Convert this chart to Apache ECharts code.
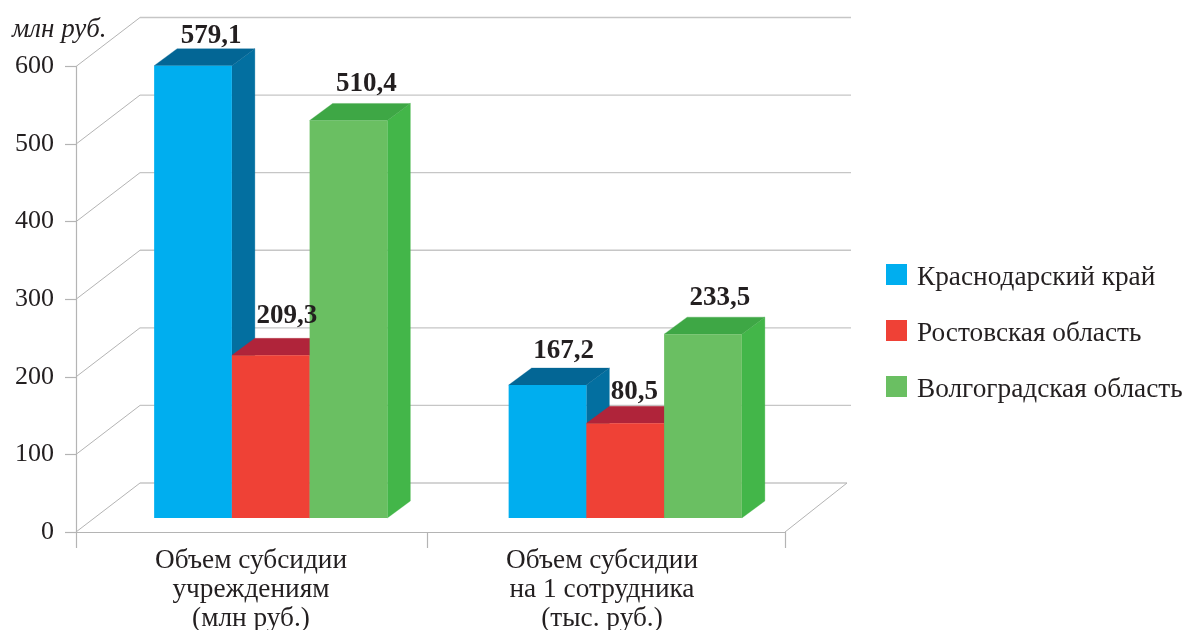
<!DOCTYPE html>
<html><head><meta charset="utf-8">
<style>html,body{margin:0;padding:0;background:#fff}#c{width:1186px;height:630px}</style>
<script src="https://cdn.jsdelivr.net/npm/echarts@6/dist/echarts.min.js"></script>
</head><body><div id="c"></div>
<script>
// DATA
const categories = ['Объем субсидии\nучреждениям\n(млн руб.)', 'Объем субсидии\nна 1 сотрудника\n(тыс. руб.)'];
const yTicks = [0, 100, 200, 300, 400, 500, 600];
const regionNames = ['Краснодарский край', 'Ростовская область', 'Волгоградская область'];
// Values printed above the bars
const krasnodarLabels = [579.1, 167.2];
const rostovLabels = [209.3, 80.5];
const volgogradLabels = [510.4, 233.5];
// Bar heights as read against the drawn axis (the original's bars are not all drawn to their printed value)
const krasnodarHeights = [583, 171.4];
const rostovHeights = [209.7, 122];
const volgogradHeights = [512.4, 237];

// STYLE / LAYOUT
const FONT = '"Liberation Serif", serif';
const INK = '#231f20';
const faces = [
  {front: '#00aeef', side: '#036fa0', top: '#036695'},
  {front: '#ef4136', side: '#b0243a', top: '#b0243a'},
  {front: '#6abf62', side: '#43b649', top: '#3ea745'}
];
const WALL = {dx: 64, dy: -49};
const DEPTH = {dx: 23, dy: -17};
const BAR = {share: 0.2193, shift: 17.5, lift: 14};
const labelNudge = [
  [[-5, 5], [-7, 1]],
  [[-7, -5], [-14, 3]],
  [[-5, -2], [-6, -2]]
];

const fmt = v => v.toFixed(1).replace('.', ',');
const poly = (points, fill, z2) => ({
  type: 'polygon', shape: {points}, z2,
  style: {fill, stroke: fill, lineWidth: 0.3}
});

function barSeries(i, heights, labels) {
  return {
    type: 'custom', name: regionNames[i], xAxisIndex: 0, yAxisIndex: 0, z: 3, silent: true,
    clip: false, itemStyle: {color: faces[i].front},
    encode: {x: 0, y: 1},
    data: heights.map((h, c) => [c, h]),
    renderItem(params, api) {
      const c = api.value(0);
      const band = api.size([1, 0])[0];
      const w = band * BAR.share;
      const mid = api.coord([c, 0]);
      const topPt = api.coord([c, api.value(1)]);
      const x = mid[0] + BAR.shift + (i - 1.5) * w;
      const base = mid[1] - BAR.lift;
      const top = topPt[1] - BAR.lift;
      const f = faces[i];
      const z = 10 + i * 5;
      const nudge = labelNudge[i][c];
      return {type: 'group', children: [
        poly([[x + w, top], [x + w + DEPTH.dx, top + DEPTH.dy], [x + w + DEPTH.dx, base + DEPTH.dy], [x + w, base]], f.side, z),
        poly([[x, top], [x + DEPTH.dx, top + DEPTH.dy], [x + w + DEPTH.dx, top + DEPTH.dy], [x + w, top]], f.top, z + 1),
        {type: 'rect', shape: {x, y: top, width: w, height: base - top}, z2: z + 2, style: {fill: f.front}},
        {type: 'text', z2: 100, style: {
          x: x + w / 2 + DEPTH.dx + nudge[0], y: top + DEPTH.dy - 4 + nudge[1],
          text: fmt(labels[c]), align: 'center', verticalAlign: 'bottom',
          fill: INK, font: 'bold 27px ' + FONT
        }}
      ]};
    }
  };
}

const frameSeries = {
  type: 'custom', xAxisIndex: 0, yAxisIndex: 0, silent: true, z: 1, clip: false,
  encode: {y: 0}, data: yTicks.map(v => [v]),
  renderItem(params, api) {
    const v = api.value(0);
    const y = api.coord([0, v])[1];
    const cs = params.coordSys;
    const left = cs.x, right = cs.x + cs.width;
    const backY = y + WALL.dy;
    const thin = {stroke: '#b4b4b4', lineWidth: 1, fill: null};
    const children = [
      {type: 'line', shape: {x1: left, y1: y, x2: left + WALL.dx, y2: backY}, style: thin},
      {type: 'line', shape: {x1: left + WALL.dx, y1: backY, x2: right + WALL.dx + (v === 0 ? -2 : 2), y2: backY},
       style: {stroke: '#c6c6c6', lineWidth: 1.4, fill: null}}
    ];
    if (v === 0) {
      children.push({type: 'line', shape: {x1: right, y1: y, x2: right + WALL.dx - 2, y2: backY}, style: thin});
    }
    return {type: 'group', children};
  }
};

const axisLine = {show: true, lineStyle: {color: '#b4b4b4', width: 1.2}};

const option = {
  backgroundColor: '#fff',
  animation: false,
  title: {
    text: 'млн руб.', left: 7, top: 11, padding: 5,
    textStyle: {fontFamily: FONT, fontStyle: 'italic', fontWeight: 'normal', fontSize: 27, color: INK}
  },
  legend: {
    orient: 'vertical', left: 881, top: 259,
    icon: 'rect', itemWidth: 21, itemHeight: 21, itemGap: 29, selectedMode: false,
    data: regionNames,
    formatter: name => '{t|' + name + '}',
    textStyle: {
      fontFamily: FONT, fontSize: 27.3, color: INK,
      rich: {t: {fontFamily: FONT, fontSize: 27.3, color: INK, padding: [6, 0, 0, 5]}}
    }
  },
  grid: {left: 76, top: 66.5, width: 709, height: 465.5, outerBoundsMode: 'none'},
  xAxis: [
    {type: 'category', data: categories, position: 'bottom',
     axisLine: {show: false}, axisTick: {show: false}, axisLabel: {show: false}, splitLine: {show: false}},
    {type: 'value', min: 0, max: 709, position: 'bottom', splitLine: {show: false},
     axisLine,
     axisTick: {show: true, length: 16, customValues: [0, 351, 709], lineStyle: {color: '#b4b4b4', width: 1.2}},
     axisLabel: {
       show: true, customValues: [175, 526], margin: 14, lineHeight: 29,
       formatter: v => categories[v === 175 ? 0 : 1],
       fontFamily: FONT, fontSize: 27.3, color: INK
     }}
  ],
  yAxis: [{
    type: 'value', min: 0, max: 600, interval: 100,
    axisLine, splitLine: {show: false},
    axisTick: {show: true, length: 11, lineStyle: {color: '#b4b4b4', width: 1.2}},
    axisLabel: {margin: 22, fontFamily: FONT, fontSize: 26, color: INK}
  }],
  series: [
    frameSeries,
    barSeries(0, krasnodarHeights, krasnodarLabels),
    barSeries(1, rostovHeights, rostovLabels),
    barSeries(2, volgogradHeights, volgogradLabels)
  ]
};
echarts.init(document.getElementById('c')).setOption(option);
</script></body></html>
